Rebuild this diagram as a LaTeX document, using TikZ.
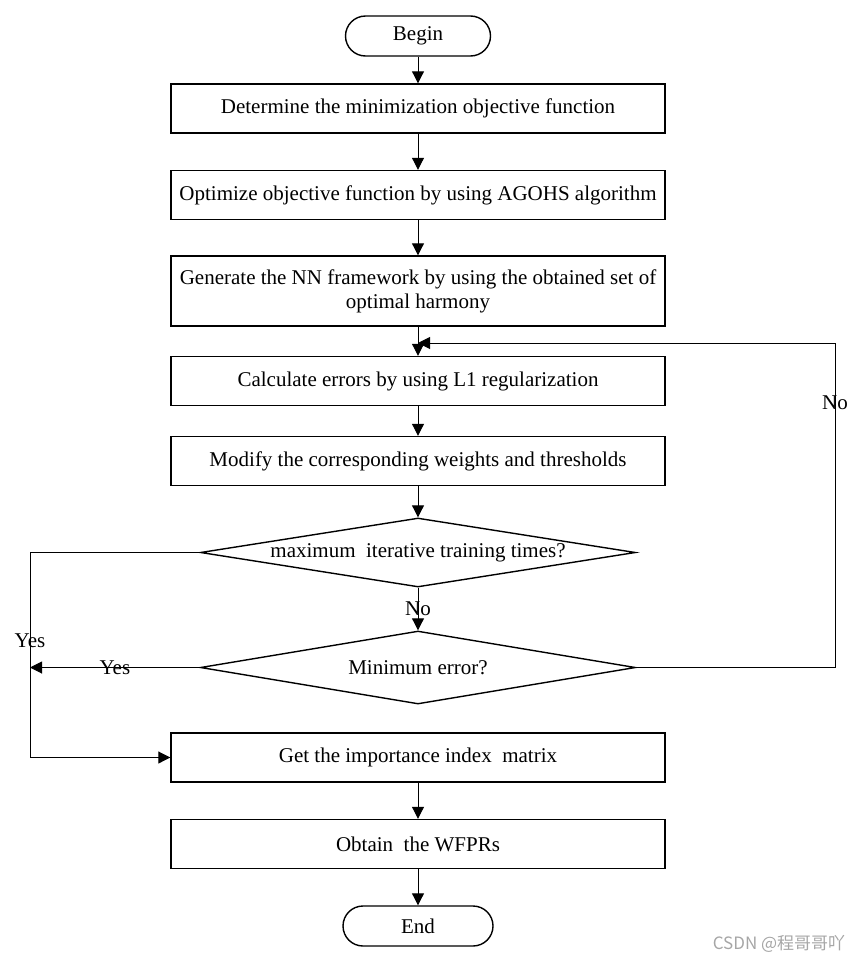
\documentclass[tikz,border=0pt]{standalone}
\usepackage{fontspec}
\setmainfont{Liberation Serif}
\newfontfamily\cjkfont{Noto Sans CJK SC}
\usetikzlibrary{arrows.meta,shapes.geometric}

\tikzset{
  process/.style={draw, line width=0.7pt, minimum width=247pt, minimum height=24.5pt, inner sep=2pt, align=center},
  terminal/.style={draw, line width=0.7pt, rounded corners=10pt, minimum width=72.5pt, minimum height=20pt},
  decision/.style={draw, diamond, line width=0.7pt, minimum width=217.5pt, minimum height=34.5pt, inner sep=0pt},
  arrow/.style={line width=0.5pt, -{Triangle[length=6pt,width=6pt]}},
}

\begin{document}
\begin{tikzpicture}[x=0.5pt, y=-0.5pt, font=\fontsize{10.5}{12}\selectfont]

   \useasboundingbox (0,0) rectangle (862,964);

   \node (Begin) at (418,36) [terminal] {Begin};
   \node (Determine) at (418,108.5) [process] {Determine the minimization objective function};
   \node (Optimize) at (418,195) [process] {Optimize objective function by using AGOHS algorithm};
   \node (Generate) at (418,291) [process, minimum height=35pt] {Generate the NN framework by using the obtained set of\\optimal harmony};
   \node (Calculate) at (418,381) [process] {Calculate errors by using L1 regularization};
   \node (Modify) at (418,461) [process] {Modify the corresponding weights and thresholds};

   \node (Maximum) at (418,552.5) [decision, label=center:{maximum\ \ iterative training times?}] {};
   \node (Minimum) at (418,667.5) [decision, minimum height=36.5pt, label=center:{Minimum error?}] {};

   \node (Importance) at (418,757.5) [process] {Get the importance index\ \ matrix};
   \node (Obtain) at (418,844) [process] {Obtain\ \ the WFPRs};
   \node (End) at (418,926) [terminal, minimum width=75pt] {End};

   \coordinate (LeftTop) at (30,552.5);
   \coordinate (LeftBottom) at (30,757.5);
   \coordinate (YesEnd) at (30,667.5);
   \coordinate (RightBottom) at (835,667.5);
   \coordinate (RightTop) at (835,343);
   \coordinate (LoopIn) at (418,343);

   \draw [arrow] (Begin.south) -- (Determine.north);
   \draw [arrow] (Determine.south) -- (Optimize.north);
   \draw [arrow] (Optimize.south) -- (Generate.north);
   \draw [arrow] (Generate.south) -- (Calculate.north);
   \draw [arrow] (Calculate.south) -- (Modify.north);
   \draw [arrow] (Modify.south) -- (Maximum.north);
   \draw [arrow] (Maximum.south) -- (Minimum.north) node [midway] {No};
   \draw [arrow] (Importance.south) -- (Obtain.north);
   \draw [arrow] (Obtain.south) -- (End.north);

   \draw [arrow] (Maximum.west) -- (LeftTop) -- (LeftBottom) -- (Importance.west);
   \draw [arrow] (Minimum.west) -- (YesEnd) node [midway] {Yes};
   \draw [arrow] (Minimum.east) -- (RightBottom) -- (RightTop) -- (LoopIn);

   \node (YesLeft) at (30,641) {Yes};
   \node (NoRight) at (835,403) {No};

   \node (Mark) at (779,944) [text=gray!70, font=\cjkfont\fontsize{8.5}{10}\selectfont] {CSDN @程哥哥吖};

\end{tikzpicture}
\end{document}
